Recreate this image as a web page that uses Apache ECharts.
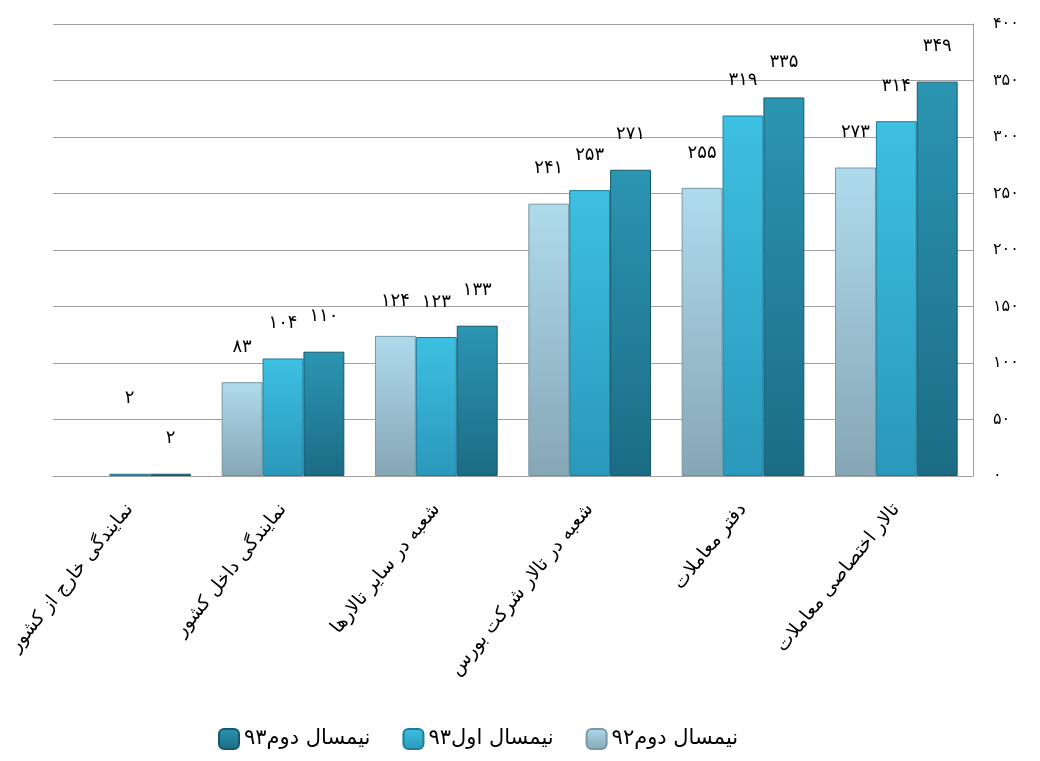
<!DOCTYPE html>
<html><head><meta charset="utf-8">
<script src="https://cdn.jsdelivr.net/npm/echarts@6/dist/echarts.min.js"></script>
<style>html,body{margin:0;padding:0;background:#fff}#c{width:1040px;height:761px}</style>
</head><body><div id="c"></div>
<script>
const categories = ['نمایندگی خارج از کشور','نمایندگی داخل کشور','شعبه در سایر تالارها','شعبه در تالار شرکت بورس','دفتر معاملات','تالار اختصاصی معاملات'];
const seriesNames = ['نیمسال دوم۹۲','نیمسال اول۹۳','نیمسال دوم۹۳'];
const s92b = [null, 83, 124, 241, 255, 273];
const s93a = [2, 104, 123, 253, 319, 314];
const s93b = [2, 110, 133, 271, 335, 349];
const yTicks = [0, 50, 100, 150, 200, 250, 300, 350, 400];

const fa = v => String(v).replace(/\d/g, d => '۰۱۲۳۴۵۶۷۸۹'[d]);
const FONT = 'DejaVu Sans';
const styles = [
  {top:'#aedbec', bot:'#86a6b5', border:'#7897a6'},
  {top:'#3dc0e2', bot:'#2a98ba', border:'#1e7c98'},
  {top:'#2b95b2', bot:'#1c6c85', border:'#15576b'}
];
const seriesData = [s92b, s93a, s93b];
const chart = echarts.init(document.getElementById('c'));
chart.setOption({
  animation:false,
  grid:{left:53, right:67, top:24, bottom:285, containLabel:false},
  legend:{
    bottom:6, left:213, data:[seriesNames[2], seriesNames[1], seriesNames[0]],
    itemWidth:20, itemHeight:20, itemGap:32,
    textStyle:{fontFamily:FONT, fontSize:21, color:'#000'}
  },
  xAxis:{
    type:'category', data:categories,
    axisLine:{lineStyle:{color:'#a0a0a0'}}, axisTick:{show:false},
    axisLabel:{rotate:51, margin:30, interval:0, fontFamily:FONT, fontSize:19, color:'#000'}
  },
  yAxis:{
    type:'value', position:'right', min:yTicks[0], max:yTicks[yTicks.length-1], interval:yTicks[1]-yTicks[0],
    axisLine:{show:true, lineStyle:{color:'#a0a0a0'}}, axisTick:{show:false},
    splitLine:{lineStyle:{color:'#a0a0a0'}},
    axisLabel:{margin:20, fontFamily:FONT, fontSize:16, color:'#000', formatter:v=>fa(v)}
  },
  series: seriesData.map((arr, i) => ({
    type:'bar', name:seriesNames[i], barGap:'0%', barCategoryGap:'20%',
    data: arr.map((v, j) => (i === 1 && j === 0) ? {value:v, label:{distance:66}} : v),
    itemStyle:{
      color:new echarts.graphic.LinearGradient(0,0,0,1,[{offset:0,color:styles[i].top},{offset:1,color:styles[i].bot}]),
      borderColor:styles[i].border, borderWidth:1
    },
    label:{show:true, position:'top', distance:26, fontFamily:FONT, fontSize:18, color:'#000', formatter:p=>fa(p.value)}
  }))
});
</script></body></html>
